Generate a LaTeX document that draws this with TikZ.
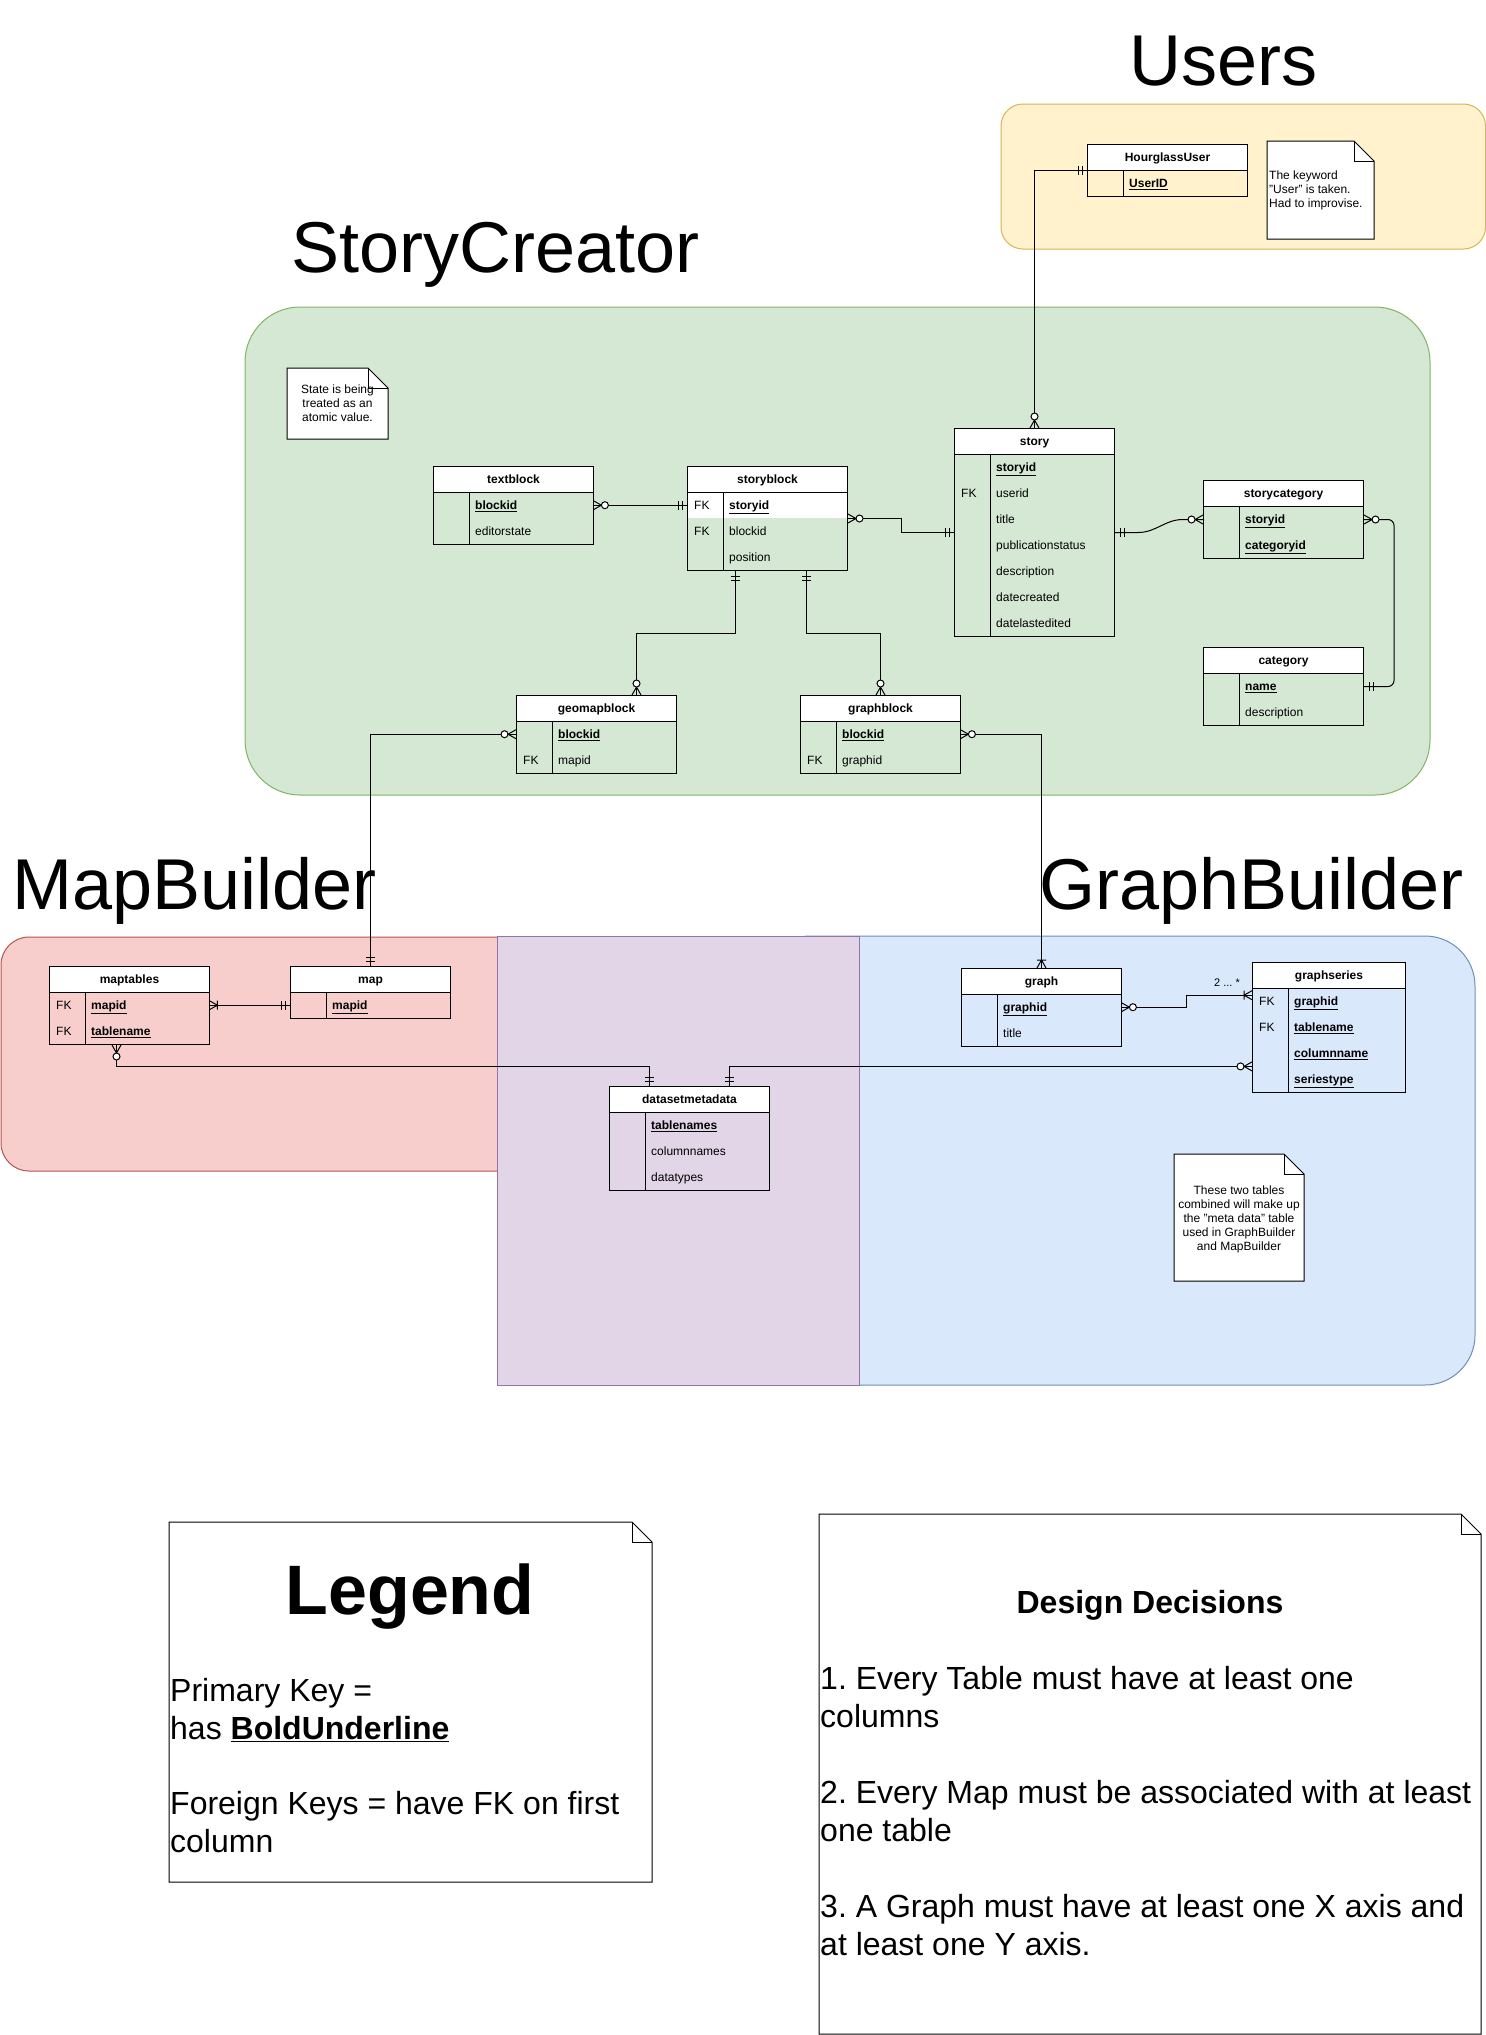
\documentclass[tikz,border=0pt]{standalone}
\usepackage{fontspec}
\setmainfont{Liberation Sans}
\frenchspacing
\usetikzlibrary{calc}
\definecolor{greenfill}{HTML}{D5E8D4}
\definecolor{greenline}{HTML}{82B366}
\definecolor{yellowfill}{HTML}{FFF2CC}
\definecolor{yellowline}{HTML}{D6B656}
\definecolor{redfill}{HTML}{F8CECC}
\definecolor{redline}{HTML}{B85450}
\definecolor{bluefill}{HTML}{DAE8FC}
\definecolor{blueline}{HTML}{6C8EBF}
\definecolor{purplefill}{HTML}{E1D5E7}
\definecolor{purpleline}{HTML}{9673A6}
\newcommand{\pk}[1]{\textbf{\underline{#1}}}
\tikzset{tablebox/.style = {draw,line width=1pt,inner sep=0pt,anchor=north west}}
\tikzset{tablehead/.style = {tablebox,fill=white,minimum height=26pt,text height=8.6pt,text depth=0pt,font=\fontsize{12}{14}\selectfont\bfseries}}
\tikzset{rowbox/.style = {inner sep=0pt,minimum height=26pt,anchor=north west}}
\tikzset{celltext/.style = {inner sep=0pt,anchor=base west,font=\fontsize{12}{14}\selectfont}}
\tikzset{link/.style = {draw,line width=1pt}}
\tikzset{noteline/.style = {draw,fill=white,line width=1pt}}
\tikzset{notetext/.style = {inner sep=0pt,align=center,font=\fontsize{12}{14}\selectfont}}
\tikzset{bigtext/.style = {inner sep=0pt,anchor=base west,font=\fontsize{32}{38}\selectfont}}
\tikzset{titletext/.style = {inner sep=0pt,anchor=base west,font=\fontsize{72}{86}\selectfont}}
\tikzset{erone/.pic = {\draw[line width=1pt] (5,-4.5) -- (5,4.5) (9,-4.5) -- (9,4.5);}}
\tikzset{ermany/.pic = {\draw[line width=1pt] (0,4.5) -- (8,0) -- (0,-4.5); \draw[line width=1pt,fill=white] (11.5,0) circle (3.5);}}
\tikzset{eronemany/.pic = {\draw[line width=1pt] (0,4.5) -- (8,0) -- (0,-4.5) (8,-4.5) -- (8,4.5);}}
\newcommand{\ertable}[7][160]{%
  \node[tablebox,minimum width=#1pt,minimum height={(#5+1)*26pt}] (#2) at (#3,#4) {};
  \node[tablehead,minimum width=#1pt] (#2-h) at (#3,#4) {#6};
  \foreach \k/\f [count=\i] in {#7} {
    \node[rowbox,minimum width=#1pt] (#2-\i) at (#3,{#4+26*\i}) {};
    \node[celltext] (#2-k\i) at ([xshift=7pt,yshift=-4.3pt]#2-\i.west) {\k};
    \node[celltext] (#2-f\i) at ([xshift=42pt,yshift=-4.3pt]#2-\i.west) {\f};
  }
  \draw[line width=1pt] ([xshift=36pt]#2-h.south west) -- ([xshift=36pt]#2.south west);
}
\newcommand{\notebox}[5]{%
  \draw[noteline] (#2,#3) -- (#4-20,#3) -- (#4,#3+20) -- (#4,#5) -- (#2,#5) -- cycle;
  \draw[line width=1pt] (#4-20,#3) -- (#4-20,#3+20) -- (#4,#3+20);
  \coordinate (#1) at ({(#2+#4)/2},{(#3+#5)/2});
}

\begin{document}
\begin{tikzpicture}[x=1pt,y=-1pt]
\useasboundingbox (0,0) rectangle (1486,2035);
\fill[white] (0,0) rectangle (1486,2035);

\draw[fill=yellowfill,draw=yellowline,line width=1pt,rounded corners=22pt] (1001,104) rectangle (1485.5,249);
\draw[fill=greenfill,draw=greenline,line width=1pt,rounded corners=55pt] (245,307) rectangle (1430,795);
\draw[fill=redfill,draw=redline,line width=1pt,rounded corners=28pt] (1,937) rectangle (600,1171);
\draw[fill=bluefill,draw=blueline,line width=1pt,rounded corners=50pt] (760,936) rectangle (1475,1385);
\draw[fill=purplefill,draw=purpleline,line width=1pt] (497,936) rectangle (859,1385);

\node[titletext] (userstitle) at (1129,85) {Users};
\node[titletext] (storytitle) at (291,272) {StoryCreator};
\node[titletext] (maptitle) at (12,909) {MapBuilder};
\node[titletext] (graphtitle) at (1039,909) {GraphBuilder};

\notebox{usernote}{1267}{141}{1374}{239}
\node[notetext,align=left,anchor=west] (usernote-t) at (1269,190) {The keyword\\"User" is taken.\\Had to improvise.};
\notebox{statenote}{287}{368}{388}{439}
\node[notetext] (statenote-t) at (statenote) {State is being\\treated as an\\atomic value.};
\notebox{metanote}{1174}{1154}{1304}{1281}
\node[notetext] (metanote-t) at (1239,1219) {These two tables\\combined will make up\\the "meta data" table\\used in GraphBuilder\\and MapBuilder};

\notebox{legendnote}{169}{1522}{652}{1882}
\node[inner sep=0pt,anchor=base,font=\fontsize{70}{84}\selectfont\bfseries] (legendtitle) at (410,1614) {Legend};
\foreach \t/\yy [count=\i] in {{Primary Key =}/1701, {has \pk{BoldUnderline}}/1739, {Foreign Keys = have FK on first}/1814, {column}/1852}
  \node[bigtext] (legend-\i) at (170,\yy) {\t};
\notebox{designnote}{819}{1514}{1481}{2034}
\node[inner sep=0pt,anchor=base,font=\fontsize{32}{38}\selectfont\bfseries] (designtitle) at (1150,1613) {Design Decisions};
\foreach \t/\yy [count=\i] in {{1. Every Table must have at least one}/1689, {columns}/1727, {2. Every Map must be associated with at least}/1803, {one table}/1841, {3. A Graph must have at least one X axis and}/1917, {at least one Y axis.}/1955}
  \node[bigtext] (design-\i) at (820,\yy) {\t};

\fill[white] (687,492) rectangle (847,518);
\ertable{hourglassuser}{1087}{144}{1}{HourglassUser}{{}/\pk{UserID}}
\ertable{textblock}{433}{466}{2}{textblock}{{}/\pk{blockid}, {}/editorstate}
\ertable{storyblock}{687}{466}{3}{storyblock}{FK/\pk{storyid}, FK/blockid, {}/position}
\ertable{story}{954}{428}{7}{story}{{}/\pk{storyid}, FK/userid, {}/title, {}/publicationstatus, {}/description, {}/datecreated, {}/datelastedited}
\ertable{storycategory}{1203}{480}{2}{storycategory}{{}/\pk{storyid}, {}/\pk{categoryid}}
\ertable{category}{1203}{647}{2}{category}{{}/\pk{name}, {}/description}
\ertable{geomapblock}{516}{695}{2}{geomapblock}{{}/\pk{blockid}, FK/mapid}
\ertable{graphblock}{800}{695}{2}{graphblock}{{}/\pk{blockid}, FK/graphid}
\ertable{maptables}{49}{966}{2}{maptables}{FK/\pk{mapid}, FK/\pk{tablename}}
\ertable{map}{290}{966}{1}{map}{{}/\pk{mapid}}
\ertable{datasetmetadata}{609}{1086}{3}{datasetmetadata}{{}/\pk{tablenames}, {}/columnnames, {}/datatypes}
\ertable{graph}{961}{968}{2}{graph}{{}/\pk{graphid}, {}/title}
\ertable[153]{graphseries}{1252}{962}{4}{graphseries}{FK/\pk{graphid}, FK/\pk{tablename}, {}/\pk{columnname}, {}/\pk{seriestype}}

\path[link] (hourglassuser.west) -| (story.north);
\path[link] (textblock-1.east) -- (storyblock-1.west);
\path[link] (storyblock.east) -- ++(53,0) |- (story.west);
\path[link] (story.east) -- ++(23,0) to[out=0,in=180] ++(45,-13) -- (storycategory.west);
\path[link,rounded corners=6pt] (storycategory.east) -- ++(30,0) |- (category.east);
\path[link] ([xshift=-32pt]storyblock.south) -- ++(0,62) -| ([xshift=40pt]geomapblock.north);
\path[link] ([xshift=39pt]storyblock.south) -- ++(0,62) -| (graphblock.north);
\path[link] (geomapblock-1.west) -| (map.north);
\path[link] (graphblock-1.east) -| (graph.north);
\path[link] (maptables-1.east) -- (map-1.west);
\path[link] ([xshift=-13pt]maptables.south) -- ++(0,21) -| ([xshift=-40pt]datasetmetadata.north);
\path[link] ([xshift=40pt]datasetmetadata.north) |- (graphseries-3.south west);
\path[link] (graph-1.east) -- ++(65,0) |- ([yshift=6pt]graphseries-1.west);

\pic[rotate=180] at (hourglassuser.west) {erone};
\pic[rotate=90] at (story.north) {ermany};
\pic at (textblock-1.east) {ermany};
\pic[rotate=180] at (storyblock-1.west) {erone};
\pic at (storyblock.east) {ermany};
\pic[rotate=180] at (story.west) {erone};
\pic at (story.east) {erone};
\pic[rotate=180] at (storycategory.west) {ermany};
\pic at (storycategory.east) {ermany};
\pic at (category.east) {erone};
\pic[rotate=-90] at ([xshift=-32pt]storyblock.south) {erone};
\pic[rotate=90] at ([xshift=40pt]geomapblock.north) {ermany};
\pic[rotate=-90] at ([xshift=39pt]storyblock.south) {erone};
\pic[rotate=90] at (graphblock.north) {ermany};
\pic[rotate=180] at (geomapblock-1.west) {ermany};
\pic[rotate=90] at (map.north) {erone};
\pic at (graphblock-1.east) {ermany};
\pic[rotate=90] at (graph.north) {eronemany};
\pic at (maptables-1.east) {eronemany};
\pic[rotate=180] at (map-1.west) {erone};
\pic[rotate=-90] at ([xshift=-13pt]maptables.south) {ermany};
\pic[rotate=90] at ([xshift=-40pt]datasetmetadata.north) {erone};
\pic[rotate=90] at ([xshift=40pt]datasetmetadata.north) {erone};
\pic[rotate=180] at (graphseries-3.south west) {ermany};
\pic at (graph-1.east) {ermany};
\pic[rotate=180] at ([yshift=6pt]graphseries-1.west) {eronemany};

\node[inner sep=0pt,font=\fontsize{11}{13}\selectfont] (cardlabel) at ([xshift=-25pt,yshift=19pt]graphseries-1.west) {2 ... *};
\end{tikzpicture}
\end{document}
